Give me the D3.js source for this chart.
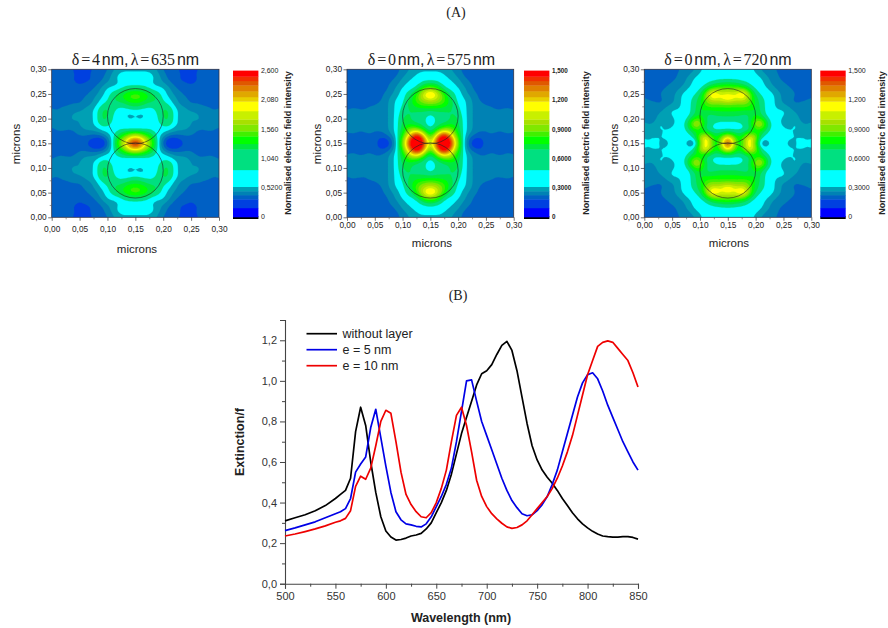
<!DOCTYPE html>
<html><head><meta charset="utf-8">
<script src="https://cdnjs.cloudflare.com/ajax/libs/d3/7.8.5/d3.min.js"></script>
<style>html,body{margin:0;background:#fff}svg{display:block}text{font-family:"Liberation Sans",Arial,sans-serif;fill:#222}</style>
</head><body><svg id="c" width="888" height="628"></svg>
<script>
// Colour classes of the contour legend, bottom to top
const bandColors=["#0000ff","#0040e0","#0060c4","#0082b4","#00a0b4","#00ffff","#00e080","#00e840","#00ff00","#40f000","#80e800","#a8e000","#c8f000","#ffff00","#e8d000","#e0a800","#e08000","#e05800","#f03000","#ff0000"];
const bandEdges=[0,.062,.122,.15,.177,.207,.322,.464,.5,.552,.586,.632,.667,.724,.79,.82,.86,.9,.93,.96,1];
// Field class read at every 0.01 micron, x 0..0.15 (columns), y 0.30..0.15 (rows); the maps mirror about 0.15
const panelALevels=[
[2,2,2,2,1,1,1,1,2,2,2,3,4,4,4,4],
[2,2,2,2,2,1,1,2,2,2,3,4,5,5,5,5],
[2,2,2,2,1,1,1,1,2,2,3,4,5,5,5,5],
[2,2,2,2,2,1,2,2,2,3,4,4,4,5,5,5],
[2,2,2,2,2,2,2,2,3,4,5,5,5,6,6,6],
[2,2,2,2,2,2,2,3,3,4,5,6,7,8,9,10],
[2,2,2,2,2,2,3,3,4,5,5,7,7,8,9,9],
[2,2,2,2,3,2,3,3,4,5,6,6,6,6,7,7],
[3,2,3,3,3,3,4,4,5,7,7,6,5,5,6,6],
[3,2,4,3,4,4,4,4,5,7,7,5,5,5,3,5],
[3,4,3,3,4,3,3,4,5,7,7,5,5,5,4,5],
[3,3,4,4,3,4,4,4,5,7,6,5,5,5,5,5],
[2,3,3,2,3,3,4,4,4,5,5,5,5,5,4,4],
[2,2,2,2,2,3,3,3,3,4,5,5,6,7,8,9],
[2,2,2,2,2,2,2,1,1,0,3,5,8,10,14,16],
[2,2,2,2,2,2,2,1,0,0,1,6,9,13,19,22]];
const panelBLevels=[
[2,2,2,2,2,2,2,2,2,2,3,3,4,4,4,4],
[2,2,2,2,2,2,2,2,2,2,3,4,4,5,5,5],
[2,2,2,2,2,2,2,2,2,3,4,4,5,5,5,5],
[2,2,2,2,2,2,2,2,3,3,4,5,5,5,6,6],
[2,2,2,2,2,2,2,2,3,4,5,5,5,6,10,11],
[2,2,2,2,2,2,2,3,3,4,5,6,7,10,15,16],
[2,2,2,2,2,2,2,3,4,5,5,6,8,10,12,13],
[2,2,2,2,2,2,3,3,4,5,5,7,8,9,9,10],
[2,3,2,2,3,3,3,3,4,5,6,6,7,7,7,7],
[3,3,4,3,3,4,3,3,4,5,6,7,6,6,6,5],
[3,2,3,3,2,3,3,3,4,5,7,7,6,6,6,4],
[3,2,3,3,2,3,3,3,4,5,7,7,6,6,6,4],
[3,3,3,3,3,3,3,3,4,5,7,9,10,7,6,5],
[2,3,2,2,3,2,2,3,4,5,7,11,16,18,9,5],
[2,2,2,2,2,2,1,1,2,5,8,15,22,23,17,6],
[2,2,2,2,2,2,1,0,1,5,9,18,23,23,17,9]];
const panelCLevels=[
[2,2,2,2,2,2,2,3,3,3,4,5,5,5,5,5],
[2,2,2,2,2,1,3,3,3,4,5,5,5,5,5,5],
[2,2,2,2,2,2,3,3,4,5,5,5,5,5,5,5],
[2,2,2,2,2,3,3,3,4,5,5,5,6,6,7,7],
[2,1,2,2,3,3,3,4,5,5,5,6,8,10,10,10],
[2,2,2,3,3,3,4,5,5,5,6,9,18,15,11,14],
[3,2,2,2,3,3,4,5,5,6,7,9,13,12,14,16],
[3,3,3,2,3,3,4,5,5,6,7,9,10,9,9,9],
[3,3,3,3,4,5,4,5,5,6,8,8,8,8,8,8],
[3,4,3,4,4,5,5,5,5,6,8,6,6,7,7,7],
[3,3,3,4,4,4,5,5,5,7,9,6,6,6,6,6],
[4,3,3,6,3,4,5,5,6,16,12,6,6,5,5,5],
[4,4,5,5,4,5,5,5,6,9,8,6,5,5,5,5],
[3,4,3,4,5,5,5,5,5,6,8,7,6,6,6,6],
[5,5,5,5,5,5,5,5,5,6,11,21,10,7,11,20],
[5,3,6,3,3,6,3,6,3,0,6,14,9,5,11,23]];
const panelATitle=["δ = 4 ","nm, ","λ = 635 ","nm"];
const panelBTitle=["δ = 0 ","nm, ","λ = 575 ","nm"];
const panelCTitle=["δ = 0 ","nm, ","λ = 720 ","nm"];
const panelATicks=["0","0,5200","1,040","1,560","2,080","2,600"];
const panelBTicks=["0","0,3000","0,6000","0,9000","1,200","1,500"];
const mapTicks=[0,.05,.10,.15,.20,.25,.30];
const mapMinorTicks=[.025,.075,.125,.175,.225,.275];
const particleCentres=[.205,.095];
// Spectra
const wavelengths=[500,510,520,530,540,550,555,560,565,570,575,580,585,590,595,600,605,610,615,620,625,630,635,640,645,650,655,660,665,670,675,680,685,690,695,700,705,710,715,720,725,730,735,740,745,750,755,760,765,770,775,780,785,790,795,800,805,810,815,820,825,830,835,840,845,850];
const withoutLayer=[.31,.325,.34,.36,.385,.42,.44,.46,.52,.75,.87,.78,.60,.45,.33,.26,.23,.215,.218,.225,.235,.24,.248,.27,.30,.35,.40,.46,.54,.64,.74,.82,.90,.98,1.035,1.05,1.08,1.13,1.175,1.195,1.15,1.05,.92,.79,.68,.61,.56,.525,.495,.46,.42,.385,.35,.32,.295,.275,.258,.245,.235,.232,.23,.23,.232,.232,.228,.22];
const layer5=[.262,.275,.29,.305,.325,.345,.355,.37,.42,.55,.59,.625,.77,.86,.72,.58,.45,.355,.315,.295,.29,.283,.28,.295,.33,.38,.43,.49,.57,.70,.85,1.0,1.005,.90,.80,.73,.66,.59,.52,.46,.41,.375,.345,.335,.34,.36,.39,.43,.49,.56,.65,.74,.83,.92,.99,1.03,1.04,1.01,.95,.88,.82,.76,.70,.65,.60,.56];
const layer10=[.235,.245,.257,.27,.285,.303,.31,.322,.36,.48,.53,.515,.57,.68,.80,.855,.84,.70,.55,.44,.39,.355,.33,.325,.35,.40,.47,.56,.70,.83,.87,.78,.65,.51,.43,.38,.345,.32,.298,.28,.273,.277,.29,.31,.34,.37,.40,.43,.47,.52,.58,.65,.73,.83,.93,1.03,1.10,1.17,1.19,1.197,1.19,1.16,1.13,1.10,1.04,.97];
const seriesNames=["without layer","e = 5 nm","e = 10 nm"];
const seriesColors=["#000000","#0000e6","#ee0000"];

const svg=d3.select("#c");
const comma=f=>d=>d3.format(f)(d).replace(".",",");
const defs=svg.append("defs");
defs.append("filter").attr("id","soft").attr("x","-5%").attr("y","-5%").attr("width","110%").attr("height","110%").append("feGaussianBlur").attr("stdDeviation",0.5);

function mirrored(levels){
  const rows=levels.map(r=>r.concat(r.slice(0,15).reverse()));
  return rows.concat(rows.slice(0,15).reverse()).flat();
}
// resample the read grid for rounded contour outlines (rendering only)
const FINE=3;
function refine(vals,n){
  const m=(n-1)*FINE+1, out=new Float64Array(m*m);
  for(let j=0;j<m;j++)for(let i=0;i<m;i++){
    const u=i/FINE,v=j/FINE,i0=Math.min(n-2,Math.floor(u)),j0=Math.min(n-2,Math.floor(v)),a=u-i0,b=v-j0;
    const at=(p,q)=>vals[q*n+p];
    out[j*m+i]=(1-a)*(1-b)*at(i0,j0)+a*(1-b)*at(i0+1,j0)+(1-a)*b*at(i0,j0+1)+a*b*at(i0+1,j0+1);
  }
  return d3.blur2({data:out,width:m,height:m},1.4).data;
}
function panel(o){
  const g=svg.append("g");
  const x=d3.scaleLinear([0,.30],[o.x0,o.x1]), y=d3.scaleLinear([0,.30],[217.3,69.3]);
  const id="clip"+o.x0;
  defs.append("clipPath").attr("id",id).append("rect").attr("x",o.x0).attr("y",69.3).attr("width",o.x1-o.x0).attr("height",148);
  const heat=g.append("g").attr("clip-path",`url(#${id})`);
  const inner=heat.append("g").attr("filter","url(#soft)");
  const fine=refine(mirrored(o.levels),31), m=30*FINE+1;
  const gridX=d3.scaleLinear([0,m-1],[x(0),x(.30)]), gridY=d3.scaleLinear([0,m-1],[y(.30),y(0)]);
  const path=d3.geoPath(d3.geoTransform({point(px,py){this.stream.point(gridX(px-.5),gridY(py-.5));}}));
  const contours=d3.contours().size([m,m]).smooth(true).thresholds(d3.range(1,20).map(k=>k-.5))(Array.from(fine));
  inner.append("rect").attr("x",o.x0-3).attr("y",66).attr("width",o.x1-o.x0+6).attr("height",154).attr("fill",bandColors[0]);
  contours.forEach((c,i)=>{inner.append("path").attr("d",path(c)).attr("fill",bandColors[i+1]).attr("stroke",bandColors[i+1]).attr("stroke-width",.2);});
  // particle outlines
  particleCentres.forEach(c=>{
    heat.append("ellipse").attr("cx",x(.15)).attr("cy",y(c)).attr("rx",x(.05)-x(0)).attr("ry",y(0)-y(.056))
      .attr("fill","none").attr("stroke","#222").attr("stroke-width",.6);
  });
  // frame & axes
  g.append("rect").attr("x",o.x0).attr("y",69.3).attr("width",o.x1-o.x0).attr("height",148).attr("fill","none").attr("stroke","#334").attr("stroke-width",.8);
  const ax=g.append("g").attr("transform","translate(0,217.3)").call(d3.axisBottom(x).tickValues(mapTicks).tickFormat(comma(".2f")).tickSize(3.5).tickPadding(o.xPad));
  const ay=g.append("g").attr("transform",`translate(${o.x0},0)`).call(d3.axisLeft(y).tickValues(mapTicks).tickFormat(comma(".2f")).tickSize(3.5).tickPadding(1.5));
  [ax,ay].forEach(a=>{a.selectAll("text").attr("font-size",8.3);a.select(".domain").remove();a.selectAll("line").attr("stroke","#333").attr("stroke-width",.7);});
  g.append("g").attr("transform","translate(0,217.3)").call(d3.axisBottom(x).tickValues(mapMinorTicks).tickFormat("").tickSize(2)).call(s=>{s.select(".domain").remove();s.selectAll("line").attr("stroke","#555").attr("stroke-width",.6);});
  g.append("g").attr("transform",`translate(${o.x0},0)`).call(d3.axisLeft(y).tickValues(mapMinorTicks).tickFormat("").tickSize(2)).call(s=>{s.select(".domain").remove();s.selectAll("line").attr("stroke","#555").attr("stroke-width",.6);});
  // axis titles
  g.append("text").attr("x",o.xTitleX).attr("y",o.xTitleY).attr("text-anchor","middle").attr("font-size",11.5).text("microns");
  g.append("text").attr("transform",`translate(${o.yTitleX},144) rotate(-90)`).attr("text-anchor","middle").attr("font-size",11.5).text("microns");
  // title
  const t=g.append("text").attr("x",o.titleX).attr("y",65).attr("text-anchor","middle").attr("font-size",16).attr("word-spacing",-2.2);
  o.title.forEach((s,i)=>t.append("tspan").style("font-family",i%2?'"Liberation Sans"':'"Liberation Serif"').text(s));
  // colour bar
  const cb=d3.scaleLinear([0,1],[217,70.6]);
  const bx=o.barX, bw=25.4;
  g.append("rect").attr("x",bx).attr("y",216.2).attr("width",bw).attr("height",2.8).attr("fill","#000");
  bandColors.forEach((c,i)=>{
    g.append("rect").attr("x",bx).attr("y",cb(bandEdges[i+1])).attr("width",bw).attr("height",cb(bandEdges[i])-cb(bandEdges[i+1])+.3).attr("fill",c);
  });
  o.ticks.forEach((s,i)=>{
    g.append("text").attr("x",bx+bw+2.5).attr("y",cb(i/5)+2.4).attr("font-size",o.barFont).attr("font-weight",o.barWeight).text(s);
  });
  g.append("text").attr("transform",`translate(${o.barTitleX},143) rotate(-90)`).attr("text-anchor","middle").attr("font-size",9).attr("font-weight","bold").text("Normalised electric field intensity");
}
panel({x0:51.7,x1:219,xPad:5,levels:panelALevels,title:panelATitle,ticks:panelATicks,barX:233,barFont:7,barWeight:"normal",barTitleX:291,titleX:135.5,xTitleX:137,xTitleY:253,yTitleX:20});
panel({x0:347,x1:513.7,xPad:1.5,levels:panelBLevels,title:panelBTitle,ticks:panelBTicks,barX:524,barFont:6.3,barWeight:"bold",barTitleX:589,titleX:431.5,xTitleX:432,xTitleY:247,yTitleX:321});
panel({x0:644.3,x1:811.3,xPad:1.5,levels:panelCLevels,title:panelCTitle,ticks:panelBTicks,barX:820.3,barFont:7,barWeight:"normal",barTitleX:885,titleX:728,xTitleX:729,xTitleY:247,yTitleX:618});

svg.append("text").attr("x",456).attr("y",17).attr("text-anchor","middle").attr("font-size",14).style("font-family",'"Liberation Serif"').text("(A)");
svg.append("text").attr("x",458).attr("y",300).attr("text-anchor","middle").attr("font-size",14).style("font-family",'"Liberation Serif"').text("(B)");

// Spectra chart
const X=d3.scaleLinear([500,850],[285,638]), Y=d3.scaleLinear([0,1.3],[583.7,320]);
const xa=svg.append("g").attr("transform","translate(0,583.7)").call(d3.axisBottom(X).tickValues(d3.range(500,851,50)).tickSize(5).tickPadding(4).tickFormat(d3.format("d")));
const ya=svg.append("g").attr("transform","translate(285,0)").call(d3.axisLeft(Y).tickValues([0,.2,.4,.6,.8,1,1.2]).tickSize(5).tickPadding(3).tickFormat(comma(".1f")));
[xa,ya].forEach(a=>{a.selectAll("text").attr("font-size",11).style("fill","#333");a.selectAll("line").attr("stroke","#444").attr("stroke-width",1);a.select(".domain").attr("stroke","#444").attr("stroke-width",1.1);});
svg.append("g").attr("transform","translate(0,583.7)").call(d3.axisBottom(X).tickValues(d3.range(525,850,50)).tickSize(3).tickFormat("")).call(s=>{s.select(".domain").remove();s.selectAll("line").attr("stroke","#444");});
svg.append("g").attr("transform","translate(285,0)").call(d3.axisLeft(Y).tickValues([.1,.3,.5,.7,.9,1.1,1.3]).tickSize(3).tickFormat("")).call(s=>{s.select(".domain").remove();s.selectAll("line").attr("stroke","#444");});
const line=d3.line().x((d,i)=>X(wavelengths[i])).y(d=>Y(d));
[withoutLayer,layer5,layer10].forEach((s,i)=>{
  svg.append("path").attr("d",line(s)).attr("fill","none").attr("stroke",seriesColors[i]).attr("stroke-width",1.7).attr("stroke-linejoin","round");
  const ly=333.7+i*16;
  svg.append("line").attr("x1",306.5).attr("x2",337).attr("y1",ly).attr("y2",ly).attr("stroke",seriesColors[i]).attr("stroke-width",1.7);
  svg.append("text").attr("x",342.5).attr("y",ly+4.5).attr("font-size",12.5).text(seriesNames[i]);
});
svg.append("text").attr("x",461).attr("y",622).attr("text-anchor","middle").attr("font-size",12.5).attr("font-weight","bold").text("Wavelength (nm)");
svg.append("text").attr("transform","translate(244,442) rotate(-90)").attr("text-anchor","middle").attr("font-size",12.5).attr("font-weight","bold").text("Extinction/f");
</script></body></html>
